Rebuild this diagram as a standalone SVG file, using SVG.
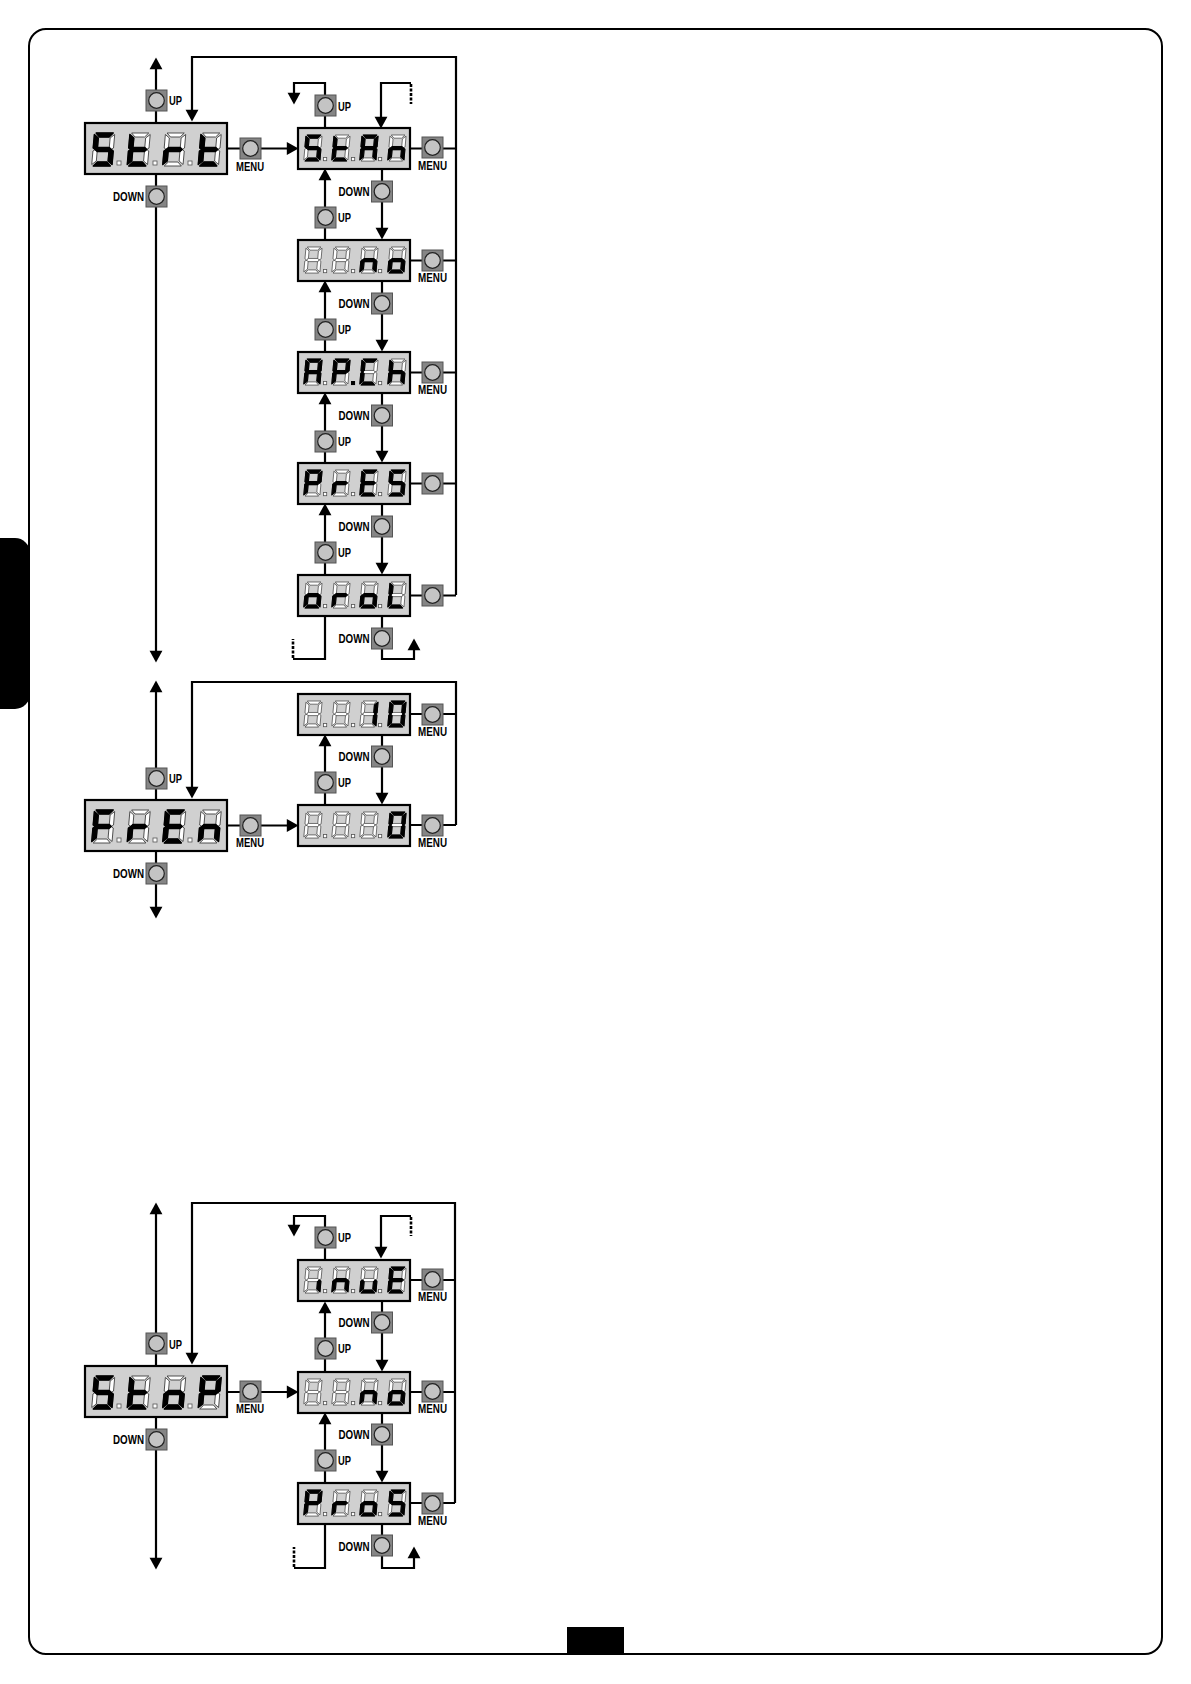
<svg xmlns="http://www.w3.org/2000/svg" width="1191" height="1684" viewBox="0 0 1191 1684">
<style>
.ln{fill:none;stroke:#000;stroke-width:2.2}
.ar{marker-end:url(#ah)}
.both{marker-start:url(#ah);marker-end:url(#ah)}
.dash{fill:none;stroke:#000;stroke-width:2.6;stroke-dasharray:3 1.5}
.bd{fill:#d0d0d0;stroke:#000;stroke-width:2.2}
.off{fill:#fff;stroke:#333;stroke-width:.8}
.on{fill:#000;stroke:#000;stroke-width:1.3;stroke-linejoin:round}
.dot{fill:#fff;stroke:#555;stroke-width:.8}
.bs{fill:#858585;stroke:#555;stroke-width:1}
.bc{fill:#c4c4c4;stroke:#222;stroke-width:1.2}
text{font-family:"Liberation Sans",Arial,sans-serif;font-weight:bold;font-size:12.5px;fill:#000}
.b1{transform:translate(9.5px,10px) skewX(-5deg) scale(1.07,1)}
.b2{transform:translate(45px,10px) skewX(-5deg) scale(1.07,1)}
.b3{transform:translate(80.5px,10px) skewX(-5deg) scale(1.07,1)}
.b4{transform:translate(116px,10px) skewX(-5deg) scale(1.07,1)}
.s1{transform:translate(8px,7px) skewX(-5deg) scale(.85,.79)}
.s2{transform:translate(36px,7px) skewX(-5deg) scale(.85,.79)}
.s3{transform:translate(64px,7px) skewX(-5deg) scale(.85,.79)}
.s4{transform:translate(92px,7px) skewX(-5deg) scale(.85,.79)}
</style>
<defs>
<marker id="ah" markerUnits="userSpaceOnUse" markerWidth="14" markerHeight="14" viewBox="0 -6 10 12" refX="7" refY="0" orient="auto-start-reverse"><path d="M0,-5.5L10,0L0,5.5Z" fill="#000"/></marker>
<path id="a" d="M1.5,0H17.5L14,4H5Z"/>
<path id="b" d="M19,1.5V15L17,16.5L15,14.5V5Z"/>
<path id="c" d="M19,18V31.5L15,28V18.5L17,16.5Z"/>
<path id="d" d="M1.5,33H17.5L14,29H5Z"/>
<path id="e" d="M0,18L2,16.5L4,18.5V28L0,31.5Z"/>
<path id="f" d="M0,1.5L4,5V14.5L2,16.5L0,15Z"/>
<path id="g" d="M2,16.5L4,14.5H15L17,16.5L15,18.5H4Z"/>
<g id="ghost" class="off"><use href="#a"/><use href="#b"/><use href="#c"/><use href="#d"/><use href="#e"/><use href="#f"/><use href="#g"/></g>
<g id="dS"><use href="#ghost"/><g class="on"><use href="#a"/><use href="#f"/><use href="#g"/><use href="#c"/><use href="#d"/></g></g>
<g id="dt"><use href="#ghost"/><g class="on"><use href="#f"/><use href="#g"/><use href="#e"/><use href="#d"/></g></g>
<g id="dr"><use href="#ghost"/><g class="on"><use href="#e"/><use href="#g"/></g></g>
<g id="dA"><use href="#ghost"/><g class="on"><use href="#a"/><use href="#b"/><use href="#c"/><use href="#e"/><use href="#f"/><use href="#g"/></g></g>
<g id="dn"><use href="#ghost"/><g class="on"><use href="#c"/><use href="#e"/><use href="#g"/></g></g>
<g id="do"><use href="#ghost"/><g class="on"><use href="#c"/><use href="#d"/><use href="#e"/><use href="#g"/></g></g>
<g id="dP"><use href="#ghost"/><g class="on"><use href="#a"/><use href="#b"/><use href="#e"/><use href="#f"/><use href="#g"/></g></g>
<g id="dC"><use href="#ghost"/><g class="on"><use href="#a"/><use href="#d"/><use href="#e"/><use href="#f"/></g></g>
<g id="dh"><use href="#ghost"/><g class="on"><use href="#c"/><use href="#e"/><use href="#f"/><use href="#g"/></g></g>
<g id="dE"><use href="#ghost"/><g class="on"><use href="#a"/><use href="#d"/><use href="#e"/><use href="#f"/><use href="#g"/></g></g>
<g id="dl"><use href="#ghost"/><g class="on"><use href="#d"/><use href="#e"/><use href="#f"/></g></g>
<g id="d1"><use href="#ghost"/><g class="on"><use href="#b"/><use href="#c"/></g></g>
<g id="d0"><use href="#ghost"/><g class="on"><use href="#a"/><use href="#b"/><use href="#c"/><use href="#d"/><use href="#e"/><use href="#f"/></g></g>
<g id="dF"><use href="#ghost"/><g class="on"><use href="#a"/><use href="#e"/><use href="#f"/><use href="#g"/></g></g>
<g id="di"><use href="#ghost"/><g class="on"><use href="#c"/></g></g>
<g id="du"><use href="#ghost"/><g class="on"><use href="#c"/><use href="#d"/><use href="#e"/></g></g>
<g id="fb"><rect class="bd" width="142" height="51"/><rect class="dot" x="32" y="38" width="4" height="4"/><rect class="dot" x="68" y="38" width="4" height="4"/><rect class="dot" x="103" y="38" width="4" height="4"/></g>
<g id="fs"><rect class="bd" width="112" height="41"/><rect class="dot" x="25.5" y="29.5" width="3.2" height="3.2"/><rect class="dot" x="53.5" y="29.5" width="3.2" height="3.2"/><rect class="dot" x="80.5" y="29.5" width="3.2" height="3.2"/></g>
<g id="btn"><rect class="bs" x="0" y="0" width="21" height="21"/><circle class="bc" cx="10.5" cy="10.5" r="7.8"/></g>
</defs>
<rect width="1191" height="1684" fill="#fff"/>
<rect id="tab" x="-20" y="538" width="50" height="171" rx="15" fill="#000"/>
<rect id="pagebox" x="29" y="29" width="1133" height="1625" rx="17" fill="#fff" stroke="#000" stroke-width="2"/>
<rect x="0" y="553" width="29" height="141" fill="#000"/>
<rect id="pageno" x="567" y="1627" width="57" height="27" fill="#000"/>
<g id="connectors">
<path class="ln both" d="M156,61V659"/>
<path class="ln ar" d="M456,595V57H192V118"/>
<path class="ln" d="M410,148.5H456M410,260.5H456M410,372.5H456M410,483.5H456M410,595.5H456"/>
<path class="ln ar" d="M227,148.5H295"/>
<path class="ln ar" d="M325,128V83H294V101"/>
<path class="ln ar" d="M411,83H381V125"/>
<path class="dash" d="M411,84V104"/>
<path class="ln ar" d="M325,240V172"/><path class="ln ar" d="M325,352V284"/><path class="ln ar" d="M325,463V396"/><path class="ln ar" d="M325,575V507"/>
<path class="ln ar" d="M382,169V236"/><path class="ln ar" d="M382,281V348"/><path class="ln ar" d="M382,393V459"/><path class="ln ar" d="M382,504V571"/>
<path class="ln ar" d="M382,616V659H414V642"/>
<path class="ln" d="M325,616V659H293"/>
<path class="dash" d="M293,658V639"/>

<path class="ln both" d="M156,684V915"/>
<path class="ln ar" d="M456,825V682H192V795"/>
<path class="ln" d="M410,714H456M410,825H456"/>
<path class="ln ar" d="M227,825.5H295"/>
<path class="ln ar" d="M325,805V738"/>
<path class="ln ar" d="M382,735V801"/>

<path class="ln both" d="M156,1206V1566"/>
<path class="ln ar" d="M455,1503V1203H192V1361"/>
<path class="ln" d="M410,1280H455M410,1392H455M410,1503H455"/>
<path class="ln ar" d="M227,1392H295"/>
<path class="ln ar" d="M325,1260V1216H294V1233"/>
<path class="ln ar" d="M411,1216H381V1255"/>
<path class="dash" d="M411,1217V1236"/>
<path class="ln ar" d="M325,1372V1305"/><path class="ln ar" d="M325,1483V1416"/>
<path class="ln ar" d="M382,1300V1368"/><path class="ln ar" d="M382,1412V1479"/>
<path class="ln ar" d="M382,1524V1568H414V1550"/>
<path class="ln" d="M325,1524V1568H294"/>
<path class="dash" d="M294,1567V1547"/>
</g>

<g id="strt" transform="translate(85,123)"><use href="#fb"/><use href="#dS" class="b1"/><use href="#dt" class="b2"/><use href="#dr" class="b3"/><use href="#dt" class="b4"/></g>
<g id="stan" transform="translate(298,128)"><use href="#fs"/><use href="#dS" class="s1"/><use href="#dt" class="s2"/><use href="#dA" class="s3"/><use href="#dn" class="s4"/></g>
<g id="no1" transform="translate(298,240)"><use href="#fs"/><use href="#ghost" class="s1"/><use href="#ghost" class="s2"/><use href="#dn" class="s3"/><use href="#do" class="s4"/></g>
<g id="apch" transform="translate(298,352)"><use href="#fs"/><use href="#dA" class="s1"/><use href="#dP" class="s2"/><rect x="53" y="29" width="4" height="4" fill="#000"/><use href="#dC" class="s3"/><use href="#dh" class="s4"/></g>
<g id="pres" transform="translate(298,463)"><use href="#fs"/><use href="#dP" class="s1"/><use href="#dr" class="s2"/><use href="#dE" class="s3"/><use href="#dS" class="s4"/></g>
<g id="orol" transform="translate(298,575)"><use href="#fs"/><use href="#do" class="s1"/><use href="#dr" class="s2"/><use href="#do" class="s3"/><use href="#dl" class="s4"/></g>

<g id="fren" transform="translate(85,800)"><use href="#fb"/><use href="#dF" class="b1"/><use href="#dr" class="b2"/><use href="#dE" class="b3"/><use href="#dn" class="b4"/></g>
<g id="v10" transform="translate(298,694)"><use href="#fs"/><use href="#ghost" class="s1"/><use href="#ghost" class="s2"/><use href="#d1" class="s3"/><use href="#d0" class="s4"/></g>
<g id="v0" transform="translate(298,805)"><use href="#fs"/><use href="#ghost" class="s1"/><use href="#ghost" class="s2"/><use href="#ghost" class="s3"/><use href="#d0" class="s4"/></g>

<g id="stop" transform="translate(85,1366)"><use href="#fb"/><use href="#dS" class="b1"/><use href="#dt" class="b2"/><use href="#do" class="b3"/><use href="#dP" class="b4"/></g>
<g id="inve" transform="translate(298,1260)"><use href="#fs"/><use href="#di" class="s1"/><use href="#dn" class="s2"/><use href="#du" class="s3"/><use href="#dE" class="s4"/></g>
<g id="no2" transform="translate(298,1372)"><use href="#fs"/><use href="#ghost" class="s1"/><use href="#ghost" class="s2"/><use href="#dn" class="s3"/><use href="#do" class="s4"/></g>
<g id="pros" transform="translate(298,1483)"><use href="#fs"/><use href="#dP" class="s1"/><use href="#dr" class="s2"/><use href="#do" class="s3"/><use href="#dS" class="s4"/></g>

<g id="buttons1">
<g id="b-up-strt"><use href="#btn" x="146" y="90"/><text x="169" y="105" textLength="13" lengthAdjust="spacingAndGlyphs">UP</text></g>
<g id="b-down-strt"><use href="#btn" x="146" y="186"/><text x="113" y="201" textLength="31" lengthAdjust="spacingAndGlyphs">DOWN</text></g>
<g id="b-menu-strt"><use href="#btn" x="240" y="138"/><text x="236" y="171" textLength="28" lengthAdjust="spacingAndGlyphs">MENU</text></g>
<g id="b-up-stan"><use href="#btn" x="315" y="95"/><text x="338" y="111" textLength="13" lengthAdjust="spacingAndGlyphs">UP</text></g>
<g id="b-menu-stan"><use href="#btn" x="422" y="137"/><text x="418" y="170" textLength="29" lengthAdjust="spacingAndGlyphs">MENU</text></g>
<g id="b-down-1"><use href="#btn" x="371.5" y="181"/><text x="338.5" y="196" textLength="31" lengthAdjust="spacingAndGlyphs">DOWN</text></g>
<g id="b-up-1"><use href="#btn" x="315" y="207"/><text x="338" y="222" textLength="13" lengthAdjust="spacingAndGlyphs">UP</text></g>
<g id="b-menu-no"><use href="#btn" x="422" y="250"/><text x="418" y="282" textLength="29" lengthAdjust="spacingAndGlyphs">MENU</text></g>
<g id="b-down-2"><use href="#btn" x="371.5" y="293"/><text x="338.5" y="308" textLength="31" lengthAdjust="spacingAndGlyphs">DOWN</text></g>
<g id="b-up-2"><use href="#btn" x="315" y="319"/><text x="338" y="334" textLength="13" lengthAdjust="spacingAndGlyphs">UP</text></g>
<g id="b-menu-apch"><use href="#btn" x="422" y="362"/><text x="418" y="394" textLength="29" lengthAdjust="spacingAndGlyphs">MENU</text></g>
<g id="b-down-3"><use href="#btn" x="371.5" y="405"/><text x="338.5" y="420" textLength="31" lengthAdjust="spacingAndGlyphs">DOWN</text></g>
<g id="b-up-3"><use href="#btn" x="315" y="431"/><text x="338" y="446" textLength="13" lengthAdjust="spacingAndGlyphs">UP</text></g>
<g id="b-menu-pres"><use href="#btn" x="422" y="473"/></g>
<g id="b-down-4"><use href="#btn" x="371.5" y="516"/><text x="338.5" y="531" textLength="31" lengthAdjust="spacingAndGlyphs">DOWN</text></g>
<g id="b-up-4"><use href="#btn" x="315" y="542"/><text x="338" y="557" textLength="13" lengthAdjust="spacingAndGlyphs">UP</text></g>
<g id="b-menu-orol"><use href="#btn" x="422" y="585"/></g>
<g id="b-down-5"><use href="#btn" x="371.5" y="628"/><text x="338.5" y="643" textLength="31" lengthAdjust="spacingAndGlyphs">DOWN</text></g>
</g>
<g id="buttons2">
<g id="b-up-fren"><use href="#btn" x="146" y="768"/><text x="169" y="783" textLength="13" lengthAdjust="spacingAndGlyphs">UP</text></g>
<g id="b-down-fren"><use href="#btn" x="146" y="863"/><text x="113" y="878" textLength="31" lengthAdjust="spacingAndGlyphs">DOWN</text></g>
<g id="b-menu-fren"><use href="#btn" x="240" y="815"/><text x="236" y="847" textLength="28" lengthAdjust="spacingAndGlyphs">MENU</text></g>
<g id="b-menu-10"><use href="#btn" x="422" y="704"/><text x="418" y="736" textLength="29" lengthAdjust="spacingAndGlyphs">MENU</text></g>
<g id="b-down-10"><use href="#btn" x="371.5" y="746"/><text x="338.5" y="761" textLength="31" lengthAdjust="spacingAndGlyphs">DOWN</text></g>
<g id="b-up-10"><use href="#btn" x="315" y="772"/><text x="338" y="787" textLength="13" lengthAdjust="spacingAndGlyphs">UP</text></g>
<g id="b-menu-0"><use href="#btn" x="422" y="815"/><text x="418" y="847" textLength="29" lengthAdjust="spacingAndGlyphs">MENU</text></g>
</g>
<g id="buttons3">
<g id="b-up-stop"><use href="#btn" x="146" y="1333"/><text x="169" y="1349" textLength="13" lengthAdjust="spacingAndGlyphs">UP</text></g>
<g id="b-down-stop"><use href="#btn" x="146" y="1429"/><text x="113" y="1444" textLength="31" lengthAdjust="spacingAndGlyphs">DOWN</text></g>
<g id="b-menu-stop"><use href="#btn" x="240" y="1381"/><text x="236" y="1413" textLength="28" lengthAdjust="spacingAndGlyphs">MENU</text></g>
<g id="b-up-inve"><use href="#btn" x="315" y="1227"/><text x="338" y="1242" textLength="13" lengthAdjust="spacingAndGlyphs">UP</text></g>
<g id="b-menu-inve"><use href="#btn" x="422" y="1269"/><text x="418" y="1301" textLength="29" lengthAdjust="spacingAndGlyphs">MENU</text></g>
<g id="b-down-6"><use href="#btn" x="371.5" y="1312"/><text x="338.5" y="1327" textLength="31" lengthAdjust="spacingAndGlyphs">DOWN</text></g>
<g id="b-up-6"><use href="#btn" x="315" y="1338"/><text x="338" y="1353" textLength="13" lengthAdjust="spacingAndGlyphs">UP</text></g>
<g id="b-menu-no2"><use href="#btn" x="422" y="1381"/><text x="418" y="1413" textLength="29" lengthAdjust="spacingAndGlyphs">MENU</text></g>
<g id="b-down-7"><use href="#btn" x="371.5" y="1424"/><text x="338.5" y="1439" textLength="31" lengthAdjust="spacingAndGlyphs">DOWN</text></g>
<g id="b-up-7"><use href="#btn" x="315" y="1450"/><text x="338" y="1465" textLength="13" lengthAdjust="spacingAndGlyphs">UP</text></g>
<g id="b-menu-pros"><use href="#btn" x="422" y="1493"/><text x="418" y="1525" textLength="29" lengthAdjust="spacingAndGlyphs">MENU</text></g>
<g id="b-down-8"><use href="#btn" x="371.5" y="1535"/><text x="338.5" y="1551" textLength="31" lengthAdjust="spacingAndGlyphs">DOWN</text></g>
</g>
</svg>
